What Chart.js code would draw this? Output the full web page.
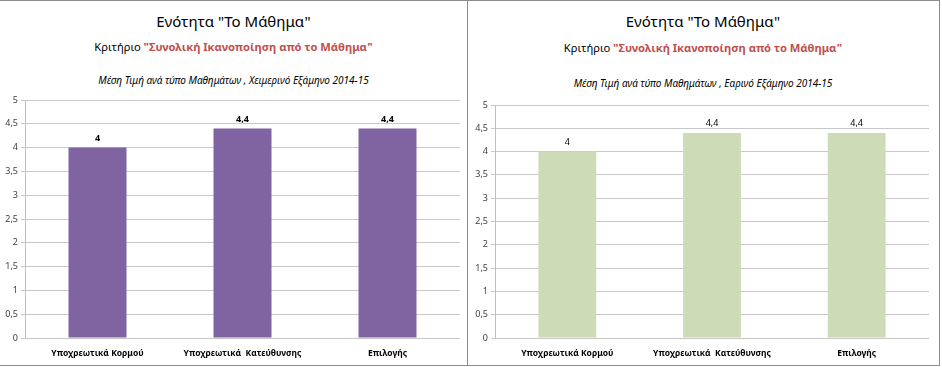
<!DOCTYPE html>
<html lang="el">
<head>
<meta charset="utf-8">
<script src="https://cdn.jsdelivr.net/npm/chart.js@4"></script>
<style>
  body { margin: 0; background: #fff; font-family: "Noto Sans", sans-serif; }
  #wrap { position: relative; width: 942px; height: 367px; overflow: hidden; }
  .panel { position: absolute; top: 0; height: 366px; border: 1px solid #8c8c8c; box-sizing: border-box; }
  .title { position: absolute; left: 0; right: 0; text-align: center; white-space: nowrap; }
  .t1 { font-size: 15px; color: #000; }
  .t2 { font-size: 11.2px; color: #000; }
  .t2 span { color: #c0504d; font-weight: bold; }
  .t3 { font-size: 10px; font-style: italic; color: #000; }
  canvas { position: absolute; }
</style>
</head>
<body>
<div id="wrap">
  <div class="panel" style="left:-1px; width:469px;">
    <div class="title t1" style="top:10px;">Ενότητα "Το Μάθημα"</div>
    <div class="title t2" style="top:38px;">Κριτήριο <span>"Συνολική Ικανοποίηση από το Μάθημα"</span></div>
    <div class="title t3" style="top:72px;">Μέση Τιμή ανά τύπο Μαθημάτων , Χειμερινό Εξάμηνο 2014-15</div>
  </div>
  <div class="panel" style="left:467px; width:473px; border-left:none;">
    <div class="title t1" style="top:10px;">Ενότητα "Το Μάθημα"</div>
    <div class="title t2" style="top:39px;">Κριτήριο <span>"Συνολική Ικανοποίηση από το Μάθημα"</span></div>
    <div class="title t3" style="top:75px;">Μέση Τιμή ανά τύπο Μαθημάτων , Εαρινό Εξάμηνο 2014-15</div>
  </div>
  <canvas id="winterChart" style="left:0; top:90px;" width="466" height="274"></canvas>
  <canvas id="springChart" style="left:467px; top:90px;" width="472" height="274"></canvas>
</div>
<script>
const categories = ['Υποχρεωτικά Κορμού', 'Υποχρεωτικά  Κατεύθυνσης', 'Επιλογής'];
const winterValues = [4, 4.4, 4.4];
const springValues = [4, 4.4, 4.4];
const yMin = 0;
const yMax = 5;
const yStep = 0.5;

function fmt(v) {
  return String(v).replace('.', ',');
}

// value labels above the bars
const valueLabels = {
  id: 'valueLabels',
  afterDatasetsDraw(chart, args, opts) {
    const ctx = chart.ctx;
    const meta = chart.getDatasetMeta(0);
    ctx.save();
    ctx.font = opts.font;
    ctx.fillStyle = '#000';
    ctx.textAlign = 'center';
    ctx.textBaseline = 'bottom';
    meta.data.forEach((bar, i) => {
      ctx.fillText(fmt(chart.data.datasets[0].data[i]), bar.x, bar.y - 5);
    });
    ctx.restore();
  }
};

function makeChart(id, values, color, labelFont, yWidth, padRight, padTop, xHeight) {
  const ctx = document.getElementById(id).getContext('2d');
  return new Chart(ctx, {
    type: 'bar',
    data: {
      labels: categories,
      datasets: [{
        data: values,
        backgroundColor: color,
        barPercentage: 0.4,
        categoryPercentage: 1
      }]
    },
    options: {
      responsive: false,
      animation: false,
      layout: { padding: { left: 0, right: padRight, top: padTop, bottom: 0 } },
      plugins: {
        legend: { display: false },
        tooltip: { enabled: false },
        valueLabels: { font: labelFont }
      },
      scales: {
        x: {
          grid: { display: false, drawTicks: false },
          border: { display: false },
          ticks: {
            color: '#000',
            font: { family: 'Noto Sans', size: 8.5, weight: 'bold' },
            padding: 10,
            maxRotation: 0,
            autoSkip: false
          },
          afterFit: s => { s.height = xHeight; }
        },
        y: {
          min: yMin,
          max: yMax,
          grid: { color: '#c8c8c8', tickLength: 4 },
          border: { color: '#bfbfbf' },
          ticks: {
            stepSize: yStep,
            color: '#404040',
            font: { family: 'Noto Sans', size: 9 },
            padding: 3,
            callback: v => fmt(v)
          },
          afterFit: s => { s.width = yWidth; }
        }
      }
    },
    plugins: [valueLabels]
  });
}

makeChart('winterChart', winterValues, '#8064a2', 'bold 9px "Noto Sans"', 25, 6, 10, 26);
makeChart('springChart', springValues, '#cddcb6', '9px "Noto Sans"', 28, 10, 15, 26);
</script>
</body>
</html>
